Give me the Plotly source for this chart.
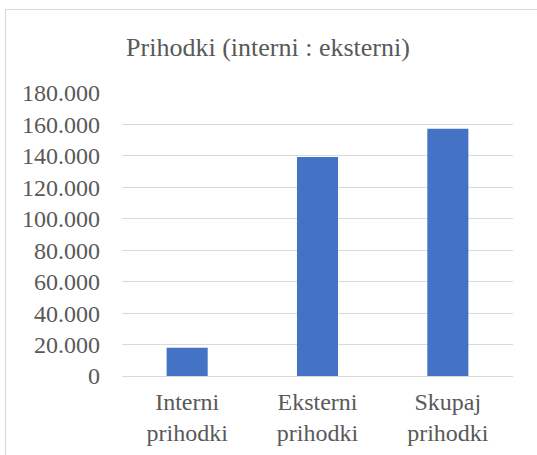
import plotly.graph_objects as go

categories = ["Interni<br>prihodki", "Eksterni<br>prihodki", "Skupaj<br>prihodki"]
values = [18000, 139300, 157300]
y_ticks = [0, 20000, 40000, 60000, 80000, 100000, 120000, 140000, 160000, 180000]
title_text = "Prihodki (interni : eksterni)"

FONT = "Liberation Serif"
TXT = "#595959"
GRID = "#d9d9d9"

fig = go.Figure(go.Bar(x=categories, y=values, marker=dict(color="#4472C4", line=dict(width=0))))

W, H = 537, 455
L, R, T, B = 122, 24, 93, 79
pw, ph = W - L - R, H - T - B

def px_to_paper_x(px):
    return (px - L) / pw

def px_to_paper_y(py):
    return (H - B - py) / ph

fig.add_shape(type="rect", xref="paper", yref="paper",
              x0=px_to_paper_x(5.5), x1=px_to_paper_x(545),
              y0=px_to_paper_y(470), y1=px_to_paper_y(9.5),
              line=dict(color=GRID, width=1.2), fillcolor="rgba(0,0,0,0)", layer="below")

fig.update_layout(
    width=W, height=H,
    margin=dict(l=L, r=R, t=T, b=B, pad=0, autoexpand=False),
    paper_bgcolor="white", plot_bgcolor="white",
    separators=",.",
    bargap=0.685,
    showlegend=False,
    font=dict(family=FONT, color=TXT),
    title=dict(text=title_text, x=268 / W, xanchor="center", y=1 - 47 / H, yanchor="middle",
               xref="container", yref="container", font=dict(family=FONT, size=26, color=TXT)),
    xaxis=dict(showgrid=False, showline=False, ticks="", automargin=False,
               tickfont=dict(family=FONT, size=24, color=TXT), ticklabelstandoff=9),
    yaxis=dict(range=[0, 180000], tickvals=y_ticks, tickformat=",d", showgrid=True, gridcolor=GRID,
               gridwidth=1.3, zeroline=True, zerolinecolor=GRID, zerolinewidth=1.3, showline=False,
               automargin=False, ticks="", tickfont=dict(family=FONT, size=24, color=TXT),
               ticklabelstandoff=21),
)

fig.write_html("out.html", config={"displayModeBar": False},
               post_script="document.body.style.margin='0';")
